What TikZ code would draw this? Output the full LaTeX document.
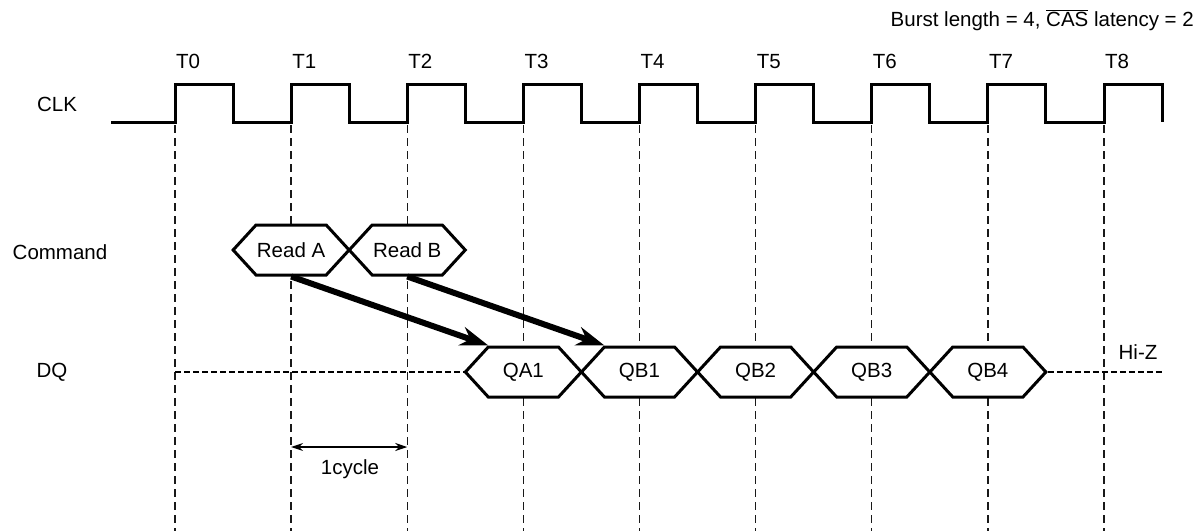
\documentclass[tikz,border=0pt]{standalone}
\usepackage{fontspec}
\setmainfont{Liberation Sans}
\usetikzlibrary{shapes.symbols,arrows.meta,calc}
\begin{document}
\begin{tikzpicture}[x=1pt,y=-1pt,
  font=\fontsize{20.5}{24}\selectfont,
  hexbox/.style={signal, signal to=east and west, signal pointer angle=95,
    draw, fill=white, line width=3pt, line join=miter,
    minimum width=116pt, minimum height=50pt, inner sep=0pt},
  gridline/.style={black!90, line width=1.3pt, dash pattern=on 8pt off 5pt},
  wave/.style={line width=3pt, line join=miter},
  hiz/.style={line width=2.8pt, dash pattern=on 6pt off 3pt},
  bigarrow/.style={line width=6pt, -{Stealth[length=28pt,width=19pt,inset=9pt]}},
  dimarrow/.style={line width=1.2pt, {Stealth[length=12pt,width=8pt]}-{Stealth[length=12pt,width=8pt]}},
  lab/.style={inner sep=0pt}]
\useasboundingbox (0,0) rectangle (1203,531);

% clock edge positions and grid lines
\foreach \i in {0,...,8}{
  \pgfmathsetmacro{\xx}{175+116.125*\i}
  \coordinate (T\i) at (\xx,0);
  \draw[gridline] (\xx,125) -- (\xx,531);
  \node[lab, anchor=base west] (tl\i) at (\xx+1,68) {T\i};
}

% CLK waveform
\draw[wave] (111,122)
  \foreach \i in {0,...,8}{
    -- ({175+116.125*\i},122) -- ++(0,-38) -- ++(58.06,0) -- ++(0,38)
  };

% row labels
\node[lab] (clk) at (57,104) {CLK};
\node[lab] (cmd) at (60,252) {Command};
\node[lab] (dq) at (52,372) {DQ};

% title
\node[lab, anchor=east] (title) at (1194,20) {Burst length = 4, $\overline{\mbox{CAS}}$ latency = 2};

% command hexagons
\node[hexbox] (ra) at ({175+116.125},250) {Read A};
\node[hexbox] (rb) at ({175+2*116.125},250) {Read B};

% DQ dashed (Hi-Z)
\draw[hiz] (T0 |- 0,372) -- (465,372);

% data hexagons
\node[hexbox] (qa1) at ({175+3*116.125},372) {QA1};
\node[hexbox] (qb1) at ({175+4*116.125},372) {QB1};
\node[hexbox] (qb2) at ({175+5*116.125},372) {QB2};
\node[hexbox] (qb3) at ({175+6*116.125},372) {QB3};
\node[hexbox] (qb4) at ({175+7*116.125},372) {QB4};

\coordinate (hzend) at (1163,372);
\draw[hiz] (qb4.east) -- (hzend);
\node[lab] (hizlab) at (1138,352) {Hi-Z};

% latency arrows
\draw[bigarrow] (ra.south) -- ($(qa1.north)+(-35,0)$);
\draw[bigarrow] (rb.south) -- ($(qb1.north)+(-35,0)$);

% one cycle
\coordinate (cyA) at ({175+116.125},447);
\coordinate (cyB) at ({175+2*116.125},447);
\draw[dimarrow] (cyA) -- (cyB);
\node[lab] (cyc) at (350,469) {1cycle};
\end{tikzpicture}
\end{document}
